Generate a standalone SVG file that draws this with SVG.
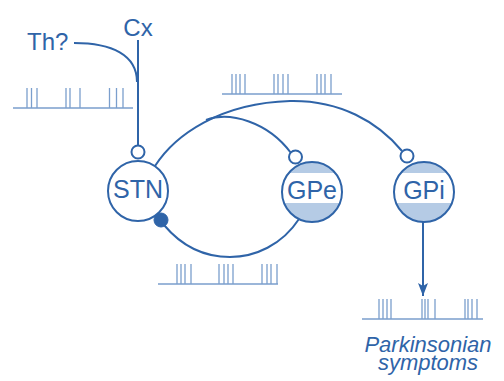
<svg xmlns="http://www.w3.org/2000/svg" width="504" height="381" viewBox="0 0 504 381">
  <style>
    .lbl { font-family: "Liberation Sans", Arial, sans-serif; fill: #2f64a8; }
    .node-text { font-size: 25px; text-anchor: middle; }
    .wire { fill: none; stroke: #2f64a8; stroke-width: 2; }
    .ring { fill: #ffffff; stroke: #2f64a8; stroke-width: 2; }
    .spikes { fill: none; stroke: #7b9fcd; stroke-width: 1.3; }
    .syn-open { fill: #ffffff; stroke: #2f64a8; stroke-width: 2; }
    .syn-fill { fill: #2f64a8; stroke: #2f64a8; stroke-width: 1; }
  </style>
  <defs>
    <clipPath id="clip-gpe"><circle cx="312" cy="192" r="30"/></clipPath>
    <clipPath id="clip-gpi"><circle cx="424" cy="192" r="30"/></clipPath>
    <marker id="arrow" viewBox="0 0 13 10" refX="13" refY="5" markerWidth="13" markerHeight="10" markerUnits="userSpaceOnUse" orient="auto">
      <path d="M0,0 L13,5 L0,10 L3,5 Z" fill="#2f64a8"/>
    </marker>
  </defs>
  <rect width="504" height="381" fill="#ffffff"/>

  <!-- firing patterns -->
  <g id="spike-trains" class="spikes">
    <path d="M13,108 H133 M27,108 V88 M31.5,108 V88 M37,108 V88 M66,108 V88 M70,108 V88 M80,108 V88 M109.5,108 V88 M116.5,108 V88 M123,108 V88"/>
    <path d="M222,94 H342 M232,94 V74 M236,94 V74 M240,94 V74 M245,94 V74 M274,94 V74 M278,94 V74 M283,94 V74 M288,94 V74 M317,94 V74 M321,94 V74 M325,94 V74 M331,94 V74"/>
    <path d="M158,284 H278 M177,284 V264 M181,284 V264 M185,284 V264 M191,284 V264 M219,284 V264 M224,284 V264 M228,284 V264 M233,284 V264 M262,284 V264 M267,284 V264 M271,284 V264 M277,284 V264"/>
    <path d="M362,319 H483 M379,319 V299 M383,319 V299 M387,319 V299 M391,319 V299 M422,319 V299 M425,319 V299 M428,319 V299 M435,319 V299 M465,319 V299 M468,319 V299 M472,319 V299 M477,319 V299"/>
  </g>

  <!-- connections -->
  <g id="connectors">
    <path class="wire" d="M74,43 C112,43 137,55 137,82"/>
    <path class="wire" d="M138,40 V145"/>
    <path class="wire" d="M155,166 C175,135 220,103 290,101 C340,100 378,122 402,151"/>
    <path class="wire" d="M206,120 C230,111 268,122 291,153"/>
    <path class="wire" d="M164,225 C185,250 210,257 230,257 C255,257 282,245 299,219"/>
    <path class="wire" d="M423,222 V296" marker-end="url(#arrow)"/>
    <circle class="syn-open" cx="138" cy="152" r="6.5"/>
    <circle class="syn-open" cx="295.5" cy="157" r="6.5"/>
    <circle class="syn-open" cx="407" cy="156" r="6.5"/>
    <circle class="syn-fill" cx="161" cy="220" r="7"/>
  </g>

  <g id="STN">
    <circle class="ring" cx="138" cy="191" r="30"/>
    <text class="lbl node-text" x="138" y="198">STN</text>
  </g>

  <g id="GPe">
    <circle cx="312" cy="192" r="30" fill="#b5cbe5"/>
    <rect x="280" y="173" width="64" height="30" fill="#ffffff" clip-path="url(#clip-gpe)"/>
    <circle cx="312" cy="192" r="30" fill="none" stroke="#2f64a8" stroke-width="2"/>
    <text class="lbl node-text" x="312" y="199">GPe</text>
  </g>

  <g id="GPi">
    <circle cx="424" cy="192" r="30" fill="#b5cbe5"/>
    <rect x="392" y="173" width="64" height="30" fill="#ffffff" clip-path="url(#clip-gpi)"/>
    <circle cx="424" cy="192" r="30" fill="none" stroke="#2f64a8" stroke-width="2"/>
    <text class="lbl node-text" x="424" y="199">GPi</text>
  </g>

  <g id="Cx">
    <text class="lbl" x="138" y="36" font-size="24" text-anchor="middle">Cx</text>
  </g>
  <g id="Th">
    <text class="lbl" x="27" y="50" font-size="24">Th?</text>
  </g>

  <g id="symptoms">
    <text class="lbl" x="428" y="352" font-size="22" font-style="italic" text-anchor="middle">Parkinsonian</text>
    <text class="lbl" x="428" y="370" font-size="22" font-style="italic" text-anchor="middle">symptoms</text>
  </g>
</svg>
